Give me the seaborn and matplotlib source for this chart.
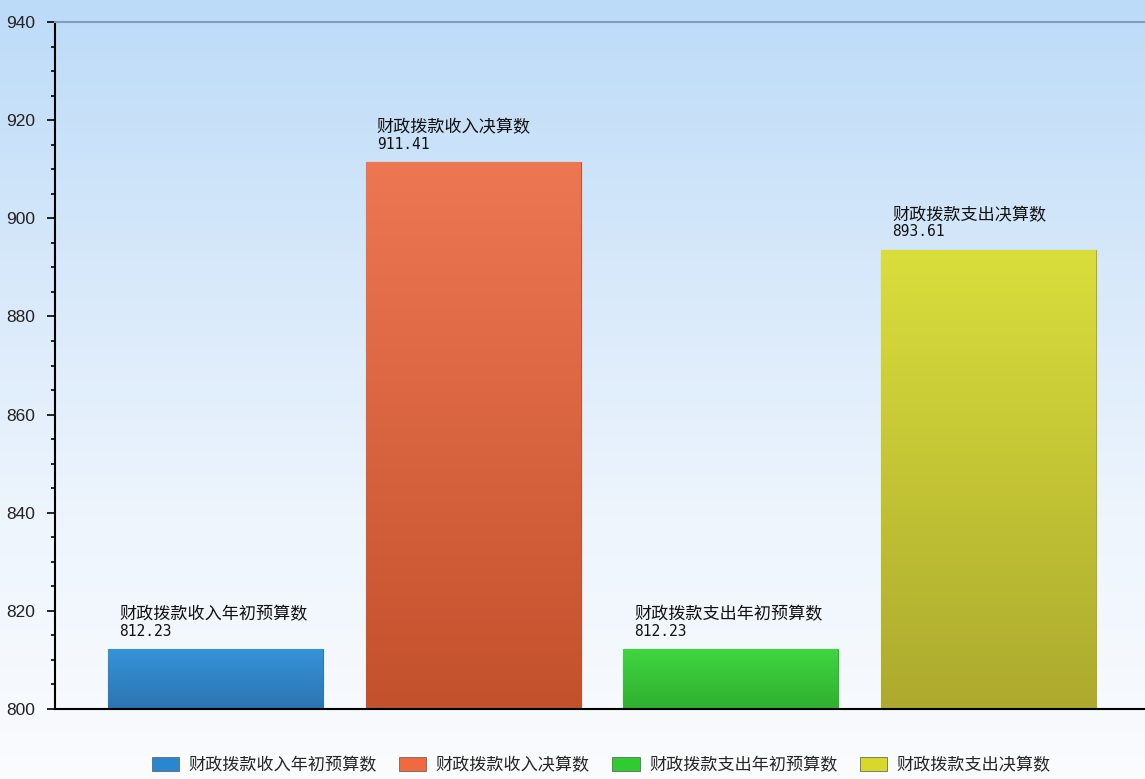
import numpy as np
import pandas as pd
import matplotlib
matplotlib.use("Agg")
import matplotlib.pyplot as plt
from matplotlib.patches import Patch
from matplotlib.colors import LinearSegmentedColormap
from matplotlib.ticker import MultipleLocator
import seaborn as sns

categories = ["财政拨款收入年初预算数", "财政拨款收入决算数", "财政拨款支出年初预算数", "财政拨款支出决算数"]
values = [812.23, 911.41, 812.23, 893.61]
value_labels = ["812.23", "911.41", "812.23", "893.61"]
y_ticks = [800, 820, 840, 860, 880, 900, 920, 940]

top_colors = ["#3594D8", "#EE7753", "#40D640", "#DADE3C"]
bottom_colors = ["#2C74B2", "#C3512C", "#30B030", "#ADAA2E"]
legend_colors = ["#2A86D1", "#F2693E", "#2FCB2F", "#D8D82A"]

sns.set_theme(style="white")
plt.rcParams['font.family'] = ['Noto Sans CJK SC', 'DejaVu Sans']

fig = plt.figure(figsize=(11.45, 7.79), dpi=100)

# background gradient
bg = fig.add_axes([0, 0, 1, 1], zorder=-10)
grad = np.linspace(0, 1, 256).reshape(-1, 1)
bg_cmap = LinearSegmentedColormap.from_list("bg", ["#BCDBF8", "#D6E8FA", "#EEF5FD", "#FAFCFE"])
bg.imshow(grad, aspect="auto", cmap=bg_cmap, extent=[0, 1, 0, 1], origin="upper")
bg.axis("off")

W, H = 1145, 779
ax = fig.add_axes([55 / W, (H - 709) / H, 1 - 55 / W, (709 - 22) / H])
ax.set_facecolor("none")

df = pd.DataFrame({"cat": categories, "val": values})
sns.barplot(data=df, x="cat", y="val", hue="cat", palette=legend_colors,
            width=0.834, legend=False, ax=ax, edgecolor="none", saturation=1)

ax.set_ylim(800, 940)
ax.set_xlim(-0.623, 3.607)

# gradient fill for bars
for i, p in enumerate(ax.patches):
    x0, w = p.get_x(), p.get_width()
    cmap = LinearSegmentedColormap.from_list("b%d" % i, [top_colors[i], bottom_colors[i]])
    im = ax.imshow(grad, aspect="auto", cmap=cmap,
                   extent=[x0, x0 + w, 800, values[i]], origin="upper", zorder=2)
    im.set_clip_path(p)
    p.set_edgecolor(bottom_colors[i])
    p.set_linewidth(0.8)
    ax.annotate(value_labels[i], xy=(x0, values[i]), xytext=(8, 9.5),
                textcoords="offset points", fontsize=10.5, color="#111111",
                family=['DejaVu Sans Mono'], va="baseline", ha="left")
    ax.annotate(categories[i], xy=(x0, values[i]), xytext=(8, 21.5),
                textcoords="offset points", fontsize=12.3, color="#111111",
                va="baseline", ha="left")

ax.set_xlim(-0.623, 3.607)
ax.set_ylim(800, 940)
ax.set_xlabel("")
ax.set_ylabel("")
ax.set_xticks([])
ax.set_yticks(y_ticks)
ax.set_yticklabels([str(t) for t in y_ticks], fontsize=12.5, color="#222222",
                   family=['Liberation Sans Narrow', 'Liberation Sans'])
ax.yaxis.set_minor_locator(MultipleLocator(5))
ax.tick_params(axis="y", which="major", direction="out", length=6, width=1.2,
               color="black", left=True, pad=8)
ax.tick_params(axis="y", which="minor", direction="out", length=3, width=1.2,
               color="black", left=True)

ax.spines["right"].set_visible(False)
ax.spines["left"].set_color("black")
ax.spines["left"].set_linewidth(1.5)
ax.spines["bottom"].set_color("black")
ax.spines["bottom"].set_linewidth(1.5)
ax.spines["top"].set_color("#7E9EBC")
ax.spines["top"].set_linewidth(1.5)

handles = [Patch(facecolor=c, edgecolor="#555555", linewidth=0.5) for c in legend_colors]
fig.legend(handles, categories, loc="center", bbox_to_anchor=(0.525, (H - 765) / H),
           ncol=4, frameon=False, fontsize=12.3, handlelength=1.6, handleheight=0.95,
           columnspacing=1.3, handletextpad=0.55)

fig.savefig("out.png", dpi=100)
